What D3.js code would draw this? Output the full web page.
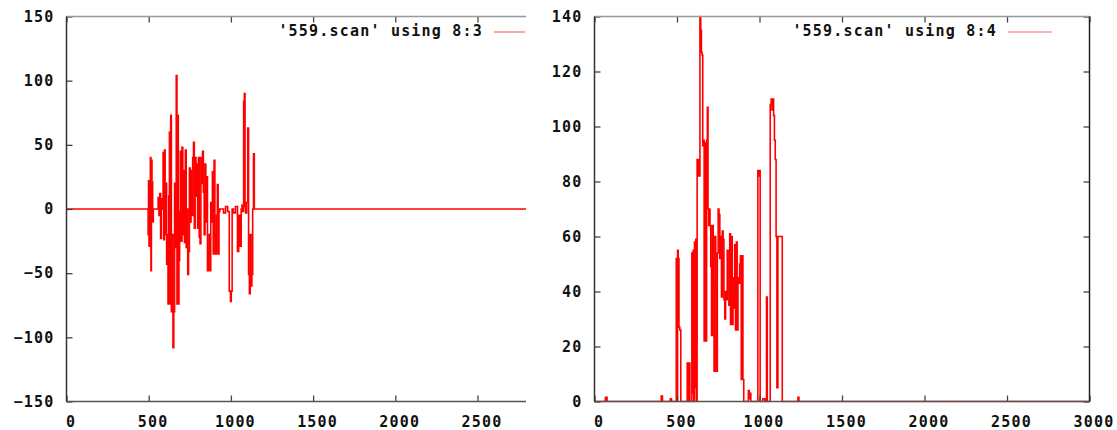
<!DOCTYPE html>
<html>
<head>
<meta charset="utf-8">
<script src="https://cdn.jsdelivr.net/npm/d3@7"></script>
<style>
  html,body{margin:0;padding:0;background:#fff;}
  svg{display:block;}
  .lbl{font-family:"DejaVu Sans Mono",monospace;font-weight:bold;font-size:15px;letter-spacing:1.2px;fill:#111;}
</style>
</head>
<body>
<script>
// ---------- data ----------
const legend3 = "'559.scan' using 8:3";
const legend4 = "'559.scan' using 8:4";

const xTicks3 = [0, 500, 1000, 1500, 2000, 2500];
const yTicks3 = [-150, -100, -50, 0, 50, 100, 150];
const xTicks4 = [0, 500, 1000, 1500, 2000, 2500, 3000];
const yTicks4 = [0, 20, 40, 60, 80, 100, 120, 140];

// column 3 vs column 8
const col3 = [
  [0,0],[470,0],[495,0],[498,-20],[500,22],[504,-29],[508,0],[512,40],[515,-48],[518,38],[522,21],[526,-10],[530,0],
  [555,0],[560,9],[565,-5],[570,12],[575,-23],[580,8],[585,0],[590,44],[593,-24],[598,46],[602,-20],[607,20],
  [611,-43],[615,-20],[620,-74],[624,10],[628,60],[632,-74],[636,73],[640,-80],[645,-20],[650,-108],[655,-80],
  [660,20],[665,-30],[670,104],[674,-74],[678,73],[682,-74],[686,-40],[690,-2],[695,45],[700,-25],[705,48],
  [710,-20],[715,30],[720,-26],[726,46],[730,-30],[735,0],[740,-51],[745,-33],[750,32],[755,-10],[760,30],
  [765,-5],[770,40],[775,52],[780,-15],[785,40],[790,10],[795,35],[800,-15],[805,40],[810,-22],[815,-27],
  [820,40],[825,20],[830,45],[835,13],[840,-20],[845,35],[850,-10],[855,25],[860,-48],[865,-35],[870,-20],
  [875,-48],[880,5],[885,-10],[890,29],[895,-35],[900,38],[905,-20],[910,-35],[915,-5],[920,19],[925,-35],
  [930,-2],[935,0],[950,0],[960,-3],[975,2],[985,-2],[995,-64],[1000,-72],[1005,-64],[1010,0],[1020,-3],
  [1035,2],[1045,-33],[1050,-5],[1060,-29],[1065,0],[1070,3],[1075,-2],[1080,84],[1084,90],[1088,2],
  [1092,-3],[1100,5],[1105,63],[1110,-51],[1115,-66],[1120,-20],[1125,-60],[1130,-51],[1135,0],[1140,43],
  [1145,0],[1160,0],[2795,0]
];

// column 4 vs column 8
const col4 = [
  [0,0],[60,0],[72,1.5],[80,0],[400,0],[409,2],[415,0],[455,0],[464,1],[470,0],[494,0],[497,52],[502,0],
  [505,55],[510,52],[514,27],[520,26],[526,0],[560,0],[564,14],[570,0],[576,14],[580,0],[588,0],[592,54],
  [596,3],[600,55],[604,0],[608,58],[612,5],[616,59],[620,0],[624,88],[628,82],[632,88],[636,82],[642,140],
  [646,135],[650,127],[654,126],[658,93],[662,95],[667,22],[672,94],[677,22],[682,95],[686,107],[690,70],
  [694,64],[698,70],[702,64],[707,49],[712,24],[717,64],[722,42],[727,11],[732,60],[737,41],[742,11],
  [747,54],[752,70],[757,68],[762,52],[767,60],[772,38],[777,62],[782,59],[787,37],[792,30],[797,40],
  [802,37],[807,55],[812,40],[817,35],[822,61],[827,28],[832,60],[837,28],[842,45],[847,34],[852,57],
  [857,26],[862,58],[867,26],[872,45],[877,43],[882,50],[887,53],[892,8],[897,53],[902,8],[907,0],
  [930,0],[935,4],[940,1],[945,3],[950,0],[988,0],[992,84],[997,82],[1002,84],[1006,0],[1015,0],
  [1025,1],[1040,0],[1045,38],[1049,0],[1062,0],[1068,108],[1073,110],[1078,106],[1083,110],[1088,104],
  [1093,95],[1098,88],[1103,60],[1108,5],[1115,60],[1136,60],[1140,0],[1230,0],[1236,1.5],[1242,0],[3000,0]
];

// ---------- drawing ----------
const W = 1117, H = 430;
const svg = d3.select("body").append("svg").attr("width", W).attr("height", H);

function panel(cfg) {
  const g = svg.append("g");
  const x = d3.scaleLinear().domain(cfg.xDomain).range([cfg.left, cfg.right]);
  const y = d3.scaleLinear().domain(cfg.yDomain).range([cfg.bottom, cfg.top]);

  const clipId = "clip" + cfg.id;
  svg.append("clipPath").attr("id", clipId).append("rect")
    .attr("x", cfg.left).attr("y", cfg.top - 1)
    .attr("width", cfg.right - cfg.left).attr("height", cfg.bottom - cfg.top + 2);

  // data line (dense samples -> near-vertical strokes)
  const line = d3.line().curve(d3.curveStep).x(d => x(d[0])).y(d => y(d[1]));
  g.append("path").datum(cfg.data)
    .attr("clip-path", `url(#${clipId})`)
    .attr("fill", "none").attr("stroke", "#ff0000")
    .attr("stroke-width", 1.6).attr("stroke-linejoin", "miter")
    .attr("d", line);

  // bottom axis
  const bx = g.append("g").attr("transform", `translate(0,${cfg.bottom})`)
    .call(d3.axisBottom(x).tickValues(cfg.xTicks).tickSizeInner(-6).tickSizeOuter(0).tickPadding(15).tickFormat(d3.format("d")));
  // left axis
  const ly = g.append("g").attr("transform", `translate(${cfg.left},0)`)
    .call(d3.axisLeft(y).tickValues(cfg.yTicks).tickSizeInner(-6).tickSizeOuter(0).tickPadding(12).tickFormat(d3.format("d")));
  // top axis (ticks only)
  const tx = g.append("g").attr("transform", `translate(0,${cfg.top})`)
    .call(d3.axisTop(x).tickValues(cfg.xTicks).tickSizeInner(-6).tickSizeOuter(0).tickFormat(""));
  [bx, ly, tx].forEach(a => a.select(".domain").remove());
  if (cfg.rightBorder) {
    const ry = g.append("g").attr("transform", `translate(${cfg.right},0)`)
      .call(d3.axisRight(y).tickValues(cfg.yTicks).tickSizeInner(-6).tickSizeOuter(0).tickFormat(""));
    ry.select(".domain").remove();
    ry.selectAll("line").attr("stroke", "#444").attr("stroke-width", 1.3);
  }
  [bx, ly, tx].forEach(a => a.selectAll("line").attr("stroke", "#444").attr("stroke-width", 1.3));
  bx.selectAll("text").attr("class", "lbl").attr("dx", 4);
  ly.selectAll("text").attr("class", "lbl");

  // frame
  const fr = g.append("g").attr("fill", "none").attr("stroke-width", 1.5);
  fr.append("line").attr("x1", cfg.left).attr("x2", cfg.right).attr("y1", cfg.top).attr("y2", cfg.top).attr("stroke", "#999");
  fr.append("line").attr("x1", cfg.left).attr("x2", cfg.right).attr("y1", cfg.bottom).attr("y2", cfg.bottom).attr("stroke", "#555");
  fr.append("line").attr("x1", cfg.left).attr("x2", cfg.left).attr("y1", cfg.top).attr("y2", cfg.bottom).attr("stroke", "#333");
  if (cfg.rightBorder) {
    fr.append("line").attr("x1", cfg.right).attr("x2", cfg.right).attr("y1", cfg.top).attr("y2", cfg.bottom).attr("stroke", "#222");
  }

  // legend
  g.append("text").attr("class", "lbl").attr("x", cfg.keyTextX).attr("y", cfg.keyY)
    .attr("dy", "0.35em").attr("text-anchor", "end").text(cfg.legend);
  g.append("line").attr("x1", cfg.keyLine[0]).attr("x2", cfg.keyLine[1])
    .attr("y1", cfg.keyY + 1).attr("y2", cfg.keyY + 1)
    .attr("stroke", "#ff0000").attr("stroke-width", 1.2).attr("stroke-opacity", 0.6);
}

panel({
  id: 3, data: col3, legend: legend3,
  xDomain: [0, 2795], yDomain: [-150, 150],
  left: 66.5, right: 526, top: 16.5, bottom: 401.5,
  xTicks: xTicks3, yTicks: yTicks3, rightBorder: false,
  keyTextX: 483, keyY: 31, keyLine: [494, 525]
});

panel({
  id: 4, data: col4, legend: legend4,
  xDomain: [0, 3000], yDomain: [0, 140],
  left: 594.5, right: 1089.5, top: 16.5, bottom: 401.5,
  xTicks: xTicks4, yTicks: yTicks4, rightBorder: true,
  keyTextX: 997, keyY: 31, keyLine: [1008, 1052]
});
</script>
</body>
</html>
